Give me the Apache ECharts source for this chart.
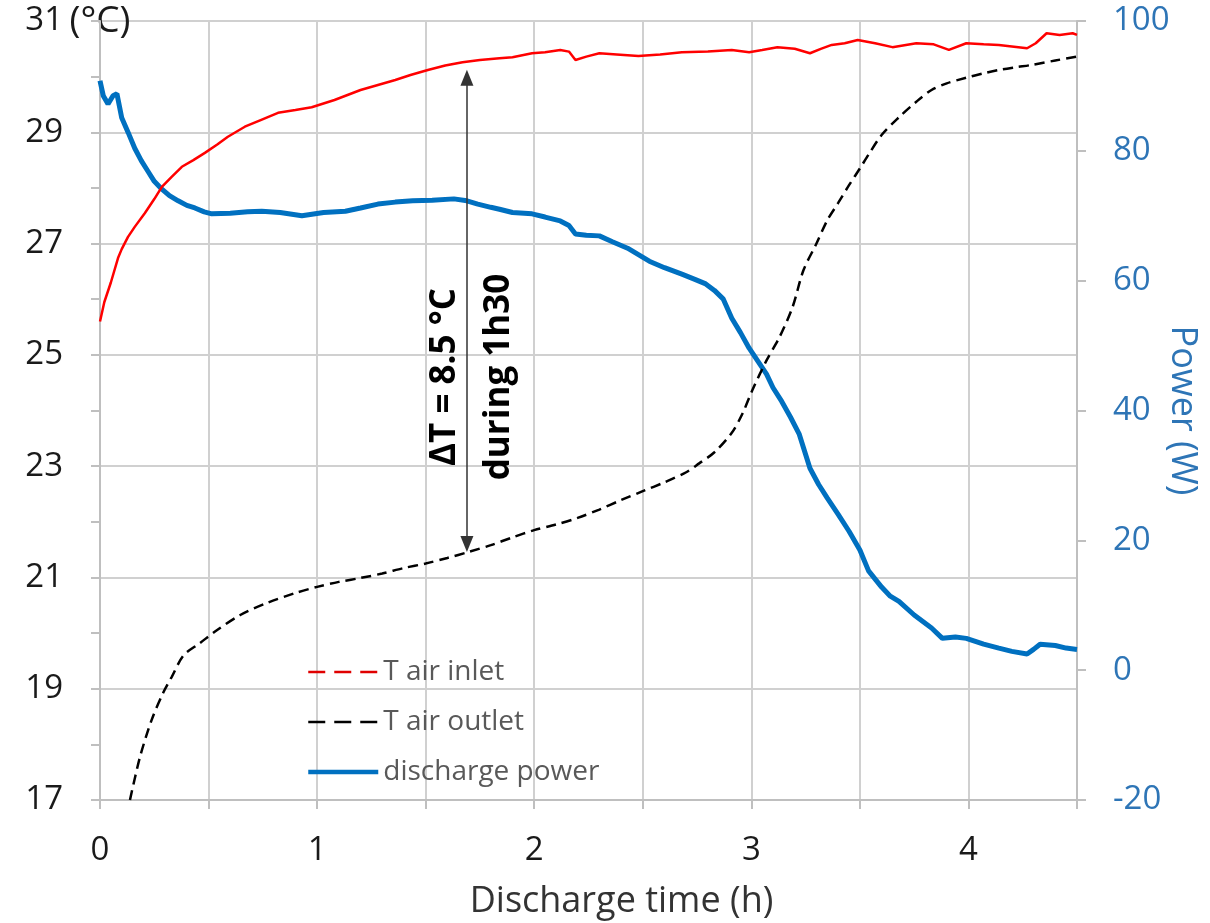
<!DOCTYPE html>
<html>
<head>
<meta charset="utf-8">
<script src="https://cdn.jsdelivr.net/npm/echarts@6/dist/echarts.min.js"></script>
<style>html,body{margin:0;padding:0;background:#fff}#chart{width:1210px;height:923px}</style>
</head>
<body>
<div id="chart"></div>
<script>
// ---- data ----
var seriesNames = ['T air inlet', 'T air outlet', 'discharge power'];
var xTickLabels = ['0', '1', '2', '3', '4'];

// T air inlet [time h, °C]
var inletData = [[0,25.6],[0.02,25.95],[0.05,26.3],[0.083,26.74],[0.1,26.9],[0.129,27.12],[0.16,27.3],[0.207,27.55],[0.25,27.8],[0.285,28.02],[0.33,28.2],[0.377,28.38],[0.43,28.5],[0.483,28.63],[0.54,28.78],[0.589,28.92],[0.667,29.1],[0.74,29.22],[0.82,29.35],[0.9,29.4],[0.975,29.45],[1.08,29.58],[1.2,29.76],[1.28,29.85],[1.36,29.94],[1.43,30.03],[1.51,30.12],[1.59,30.2],[1.67,30.26],[1.75,30.3],[1.84,30.33],[1.9,30.35],[1.99,30.42],[2.05,30.44],[2.12,30.48],[2.16,30.45],[2.19,30.3],[2.24,30.36],[2.3,30.42],[2.38,30.4],[2.48,30.37],[2.58,30.4],[2.68,30.44],[2.8,30.45],[2.91,30.48],[2.99,30.44],[3.05,30.48],[3.12,30.53],[3.2,30.5],[3.27,30.42],[3.32,30.5],[3.37,30.57],[3.43,30.6],[3.49,30.66],[3.57,30.6],[3.65,30.53],[3.76,30.6],[3.84,30.58],[3.91,30.48],[3.99,30.6],[4.07,30.58],[4.14,30.57],[4.27,30.51],[4.31,30.6],[4.36,30.78],[4.42,30.75],[4.48,30.78],[4.5,30.75]];

// T air outlet [time h, °C]
var outletData = [[0.138,17.0],[0.184,17.77],[0.238,18.44],[0.29,18.92],[0.33,19.21],[0.385,19.6],[0.46,19.82],[0.538,20.05],[0.644,20.32],[0.768,20.54],[0.9,20.72],[1.0,20.83],[1.1,20.92],[1.2,20.99],[1.3,21.07],[1.4,21.17],[1.5,21.25],[1.6,21.35],[1.7,21.46],[1.8,21.58],[1.9,21.72],[2.0,21.85],[2.1,21.95],[2.2,22.07],[2.3,22.22],[2.4,22.39],[2.5,22.55],[2.6,22.71],[2.7,22.89],[2.76,23.05],[2.83,23.25],[2.91,23.6],[2.96,23.95],[3.005,24.37],[3.07,24.9],[3.13,25.32],[3.19,25.86],[3.24,26.52],[3.3,27.0],[3.35,27.42],[3.4,27.73],[3.45,28.05],[3.5,28.35],[3.54,28.6],[3.6,28.95],[3.68,29.27],[3.76,29.55],[3.83,29.76],[3.9,29.88],[3.99,29.98],[4.07,30.06],[4.14,30.12],[4.22,30.17],[4.29,30.21],[4.4,30.29],[4.5,30.36]];

// discharge power [time h, W]
var powerData = [[0,90.8],[0.015,88.5],[0.037,87.2],[0.06,88.5],[0.078,88.8],[0.1,85.1],[0.13,82.8],[0.16,80.4],[0.19,78.5],[0.22,76.9],[0.25,75.3],[0.285,74.1],[0.32,73.1],[0.36,72.3],[0.4,71.6],[0.437,71.2],[0.48,70.6],[0.515,70.3],[0.6,70.4],[0.68,70.6],[0.745,70.7],[0.83,70.5],[0.93,70.0],[1.03,70.5],[1.13,70.7],[1.2,71.2],[1.28,71.8],[1.36,72.1],[1.44,72.3],[1.53,72.4],[1.63,72.6],[1.69,72.3],[1.74,71.8],[1.8,71.3],[1.84,71.0],[1.9,70.5],[1.99,70.3],[2.05,69.8],[2.12,69.2],[2.16,68.5],[2.19,67.2],[2.24,67.0],[2.3,66.9],[2.36,66.0],[2.43,65.0],[2.48,64.0],[2.53,63.0],[2.6,62.0],[2.68,61.0],[2.74,60.2],[2.79,59.5],[2.83,58.5],[2.87,57.2],[2.91,54.2],[2.95,52.0],[2.99,49.6],[3.03,47.6],[3.07,45.6],[3.1,43.5],[3.14,41.4],[3.18,39.0],[3.22,36.4],[3.27,31.1],[3.31,28.6],[3.35,26.5],[3.4,24.0],[3.45,21.4],[3.5,18.5],[3.54,15.3],[3.6,12.8],[3.64,11.4],[3.68,10.6],[3.75,8.5],[3.83,6.5],[3.88,4.9],[3.94,5.1],[3.99,4.9],[4.07,4.0],[4.14,3.4],[4.2,2.9],[4.27,2.5],[4.3,3.2],[4.33,4.0],[4.4,3.8],[4.45,3.4],[4.5,3.2]];

// ΔT annotation arrow (time h, °C at its two ends)
var arrowX = 1.69;
var arrowTop = 29.98;
var arrowBottom = 21.6;
var annotationLines = ['\u0394T = 8.5 \u00B0C', 'during 1h30'];

// ---- chart ----
var FONT = '"Open Sans", "Noto Sans", sans-serif';
var GRID = '#D0D0D0';
var AXIS = '#BFBFBF';
var BLUE_TXT = '#2E75B6';

var chart = echarts.init(document.getElementById('chart'), null, {renderer: 'canvas'});
var option = {
  animation: false,
  backgroundColor: '#fff',
  textStyle: {fontFamily: FONT},
  grid: {left: 100, right: 133, top: 21, bottom: 123, containLabel: false, outerBoundsMode: 'none'},
  legend: {
    orient: 'vertical', left: 301, top: 653,
    itemWidth: 70, itemHeight: 14, itemGap: 22,
    itemStyle: {opacity: 0},
    textStyle: {fontSize: 28, color: '#595959', fontFamily: FONT},
    data: [
      {name: seriesNames[0], lineStyle: {type: [17, 9], width: 2.5, color: '#E00000'}},
      {name: seriesNames[1], lineStyle: {type: [17, 9], width: 2.5, color: '#000'}},
      {name: seriesNames[2], lineStyle: {type: 'solid', width: 4.5, color: '#0070C0'}}
    ]
  },
  xAxis: {
    type: 'value', min: 0, max: 4.5, interval: 0.5,
    axisLine: {show: true, onZero: false, lineStyle: {color: AXIS, width: 2}},
    axisTick: {show: true, length: 9, lineStyle: {color: AXIS, width: 2}},
    splitLine: {show: true, lineStyle: {color: GRID, width: 2}},
    axisLabel: {
      fontSize: 33, color: '#1a1a1a', margin: 34, fontFamily: FONT,
      formatter: function (v) { return Number.isInteger(v) ? xTickLabels[v] : ''; }
    },
    name: 'Discharge time (h)', nameLocation: 'middle', nameGap: 84,
    nameTextStyle: {fontSize: 36, color: '#333', fontFamily: FONT, padding: [0, 0, 0, 66]}
  },
  yAxis: [
    {
      type: 'value', position: 'left', min: 17, max: 31, interval: 2,
      axisLine: {show: true, lineStyle: {color: AXIS, width: 2}},
      axisTick: {show: true, length: 9, lineStyle: {color: AXIS, width: 2}},
      minorTick: {show: true, splitNumber: 2, length: 9, lineStyle: {color: AXIS, width: 2}},
      splitLine: {show: true, lineStyle: {color: GRID, width: 2}},
      axisLabel: {fontSize: 33, color: '#1a1a1a', margin: 37, fontFamily: FONT},
      name: '(\u00B0C)', nameLocation: 'end', nameGap: 0,
      nameTextStyle: {fontSize: 37, color: '#1a1a1a', align: 'center', verticalAlign: 'middle', fontFamily: FONT}
    },
    {
      type: 'value', position: 'right', min: -20, max: 100, interval: 20,
      axisLine: {show: true, lineStyle: {color: AXIS, width: 2}},
      axisTick: {show: true, length: 9, lineStyle: {color: AXIS, width: 2}},
      splitLine: {show: false},
      axisLabel: {fontSize: 33, color: BLUE_TXT, margin: 36, fontFamily: FONT},
      name: 'Power (W)', nameLocation: 'middle', nameRotate: -90, nameGap: 87,
      nameMoveOverlap: false,
      nameTextStyle: {fontSize: 36, color: BLUE_TXT, fontFamily: FONT}
    }
  ],
  series: [
    {
      name: seriesNames[2], type: 'line', yAxisIndex: 1, data: powerData,
      symbol: 'none', showSymbol: false, z: 2,
      lineStyle: {color: '#0070C0', width: 5}, itemStyle: {color: '#0070C0'}
    },
    {
      name: seriesNames[1], type: 'line', yAxisIndex: 0, data: outletData,
      symbol: 'none', showSymbol: false, smooth: 0.3, z: 3,
      lineStyle: {color: '#000', width: 2.5, type: [10, 6]}, itemStyle: {color: '#000'},
      markLine: {
        silent: true, animation: false,
        symbol: ['triangle', 'triangle'], symbolSize: [13, 16],
        label: {show: false},
        lineStyle: {color: '#333', width: 1.5, type: 'solid'},
        data: [[{coord: [arrowX, arrowTop]}, {coord: [arrowX, arrowBottom]}]]
      }
    },
    {
      name: seriesNames[0], type: 'line', yAxisIndex: 0, data: inletData,
      symbol: 'none', showSymbol: false, z: 4,
      lineStyle: {color: '#FF0000', width: 2.5}, itemStyle: {color: '#FF0000'}
    }
  ],
  graphic: [
    {type: 'text', x: 472, y: 377, rotation: Math.PI / 2, z: 100,
     style: {text: annotationLines.join('\n'), font: 'bold 35px ' + FONT, lineHeight: 54,
             fill: '#000', align: 'center', verticalAlign: 'middle'}}
  ]
};
chart.setOption(option);
</script>
</body>
</html>
